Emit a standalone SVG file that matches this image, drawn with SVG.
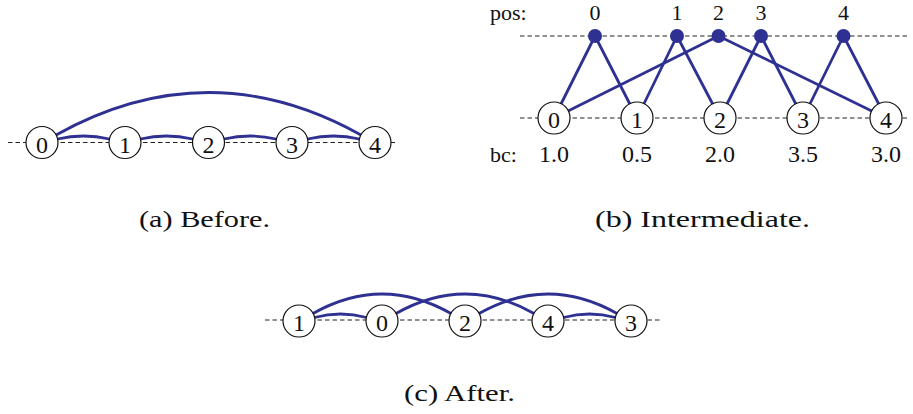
<svg xmlns="http://www.w3.org/2000/svg" width="913" height="414" viewBox="0 0 913 414">
<style>
.dash{stroke:#222;stroke-width:1;stroke-dasharray:4.5 3;fill:none}
.e{stroke:#2e3192;stroke-width:2.8;fill:none;stroke-linecap:round}
.n circle{fill:#fff;stroke:#111;stroke-width:1.2}
.n text,.lbl{font-family:"Liberation Serif","DejaVu Serif",serif;font-size:24px;fill:#111;text-anchor:middle}
.sm{font-family:"Liberation Serif","DejaVu Serif",serif;font-size:22px;fill:#111}
.dot{fill:#2e3192}
.cap{font-family:"Liberation Serif","DejaVu Serif",serif;font-size:24px;fill:#111}
</style>
<!-- dashed axes -->
<g id="axes">
<line class="dash" x1="8" y1="142.5" x2="398" y2="142.5"/>
<line class="dash" x1="520" y1="36" x2="910" y2="36"/>
<line class="dash" x1="520" y1="118" x2="910" y2="118"/>
<line class="dash" x1="265" y1="320" x2="660" y2="320"/>
</g>
<!-- connectors -->
<g id="connectors">
<!-- (a) -->
<path class="e" d="M56,135 Q208.5,50 361,135"/>
<path class="e" d="M57.5,139 Q83.5,133 109.5,139"/>
<path class="e" d="M140.5,139 Q166.5,133 192.5,139"/>
<path class="e" d="M224,139 Q250,133 276,139"/>
<path class="e" d="M307.5,139 Q333.5,133 359.5,139"/>
<!-- (b) -->
<line class="e" x1="595" y1="36" x2="554" y2="118"/>
<line class="e" x1="595" y1="36" x2="637" y2="118"/>
<line class="e" x1="677" y1="36" x2="637" y2="118"/>
<line class="e" x1="677" y1="36" x2="720" y2="118"/>
<line class="e" x1="718.5" y1="36" x2="554" y2="118"/>
<line class="e" x1="718.5" y1="36" x2="886" y2="118"/>
<line class="e" x1="761" y1="36" x2="720" y2="118"/>
<line class="e" x1="761" y1="36" x2="803" y2="118"/>
<line class="e" x1="843.5" y1="36" x2="803" y2="118"/>
<line class="e" x1="843.5" y1="36" x2="886" y2="118"/>
<!-- (c) -->
<path class="e" d="M314.5,317.5 Q340.5,310.5 366.5,317.5"/>
<path class="e" d="M313,313.5 Q382,274.5 451,313.5"/>
<path class="e" d="M396,313.5 Q465,274.5 534,313.5"/>
<path class="e" d="M479,313.5 Q548,274.5 617,313.5"/>
<path class="e" d="M563.5,317.5 Q589.5,310.5 615.5,317.5"/>
</g>
<!-- panel (a) nodes -->
<g id="a0" class="n"><circle cx="42" cy="142.5" r="16"/><text x="42" y="152.5">0</text></g>
<g id="a1" class="n"><circle cx="125" cy="142.5" r="16"/><text x="125" y="152.5">1</text></g>
<g id="a2" class="n"><circle cx="208.5" cy="142.5" r="16"/><text x="208.5" y="152.5">2</text></g>
<g id="a3" class="n"><circle cx="292" cy="142.5" r="16"/><text x="292" y="152.5">3</text></g>
<g id="a4" class="n"><circle cx="375" cy="142.5" r="16"/><text x="375" y="152.5">4</text></g>
<!-- panel (b) -->
<text class="sm" x="490" y="20">pos:</text>
<text class="sm" x="490" y="161.5">bc:</text>
<g id="p0"><circle class="dot" cx="595" cy="36" r="7"/><text class="sm" x="595" y="20" text-anchor="middle">0</text></g>
<g id="p1"><circle class="dot" cx="677" cy="36" r="7"/><text class="sm" x="677" y="20" text-anchor="middle">1</text></g>
<g id="p2"><circle class="dot" cx="718.5" cy="36" r="7"/><text class="sm" x="718.5" y="20" text-anchor="middle">2</text></g>
<g id="p3"><circle class="dot" cx="761" cy="36" r="7"/><text class="sm" x="761" y="20" text-anchor="middle">3</text></g>
<g id="p4"><circle class="dot" cx="843.5" cy="36" r="7"/><text class="sm" x="843.5" y="20" text-anchor="middle">4</text></g>
<g id="b0" class="n"><circle cx="554" cy="118" r="16"/><text x="554" y="128">0</text><text class="sm" x="554" y="161.5" text-anchor="middle">1.0</text></g>
<g id="b1" class="n"><circle cx="637" cy="118" r="16"/><text x="637" y="128">1</text><text class="sm" x="637" y="161.5" text-anchor="middle">0.5</text></g>
<g id="b2" class="n"><circle cx="720" cy="118" r="16"/><text x="720" y="128">2</text><text class="sm" x="720" y="161.5" text-anchor="middle">2.0</text></g>
<g id="b3" class="n"><circle cx="803" cy="118" r="16"/><text x="803" y="128">3</text><text class="sm" x="803" y="161.5" text-anchor="middle">3.5</text></g>
<g id="b4" class="n"><circle cx="886" cy="118" r="16"/><text x="886" y="128">4</text><text class="sm" x="886" y="161.5" text-anchor="middle">3.0</text></g>
<!-- panel (c) nodes -->
<g id="c1" class="n"><circle cx="299" cy="321" r="16"/><text x="299" y="331">1</text></g>
<g id="c0" class="n"><circle cx="382" cy="321" r="16"/><text x="382" y="331">0</text></g>
<g id="c2" class="n"><circle cx="465" cy="321" r="16"/><text x="465" y="331">2</text></g>
<g id="c4" class="n"><circle cx="548" cy="321" r="16"/><text x="548" y="331">4</text></g>
<g id="c3" class="n"><circle cx="631" cy="321" r="16"/><text x="631" y="331">3</text></g>
<!-- captions -->
<text class="cap" x="139" y="227" textLength="131" lengthAdjust="spacingAndGlyphs">(a) Before.</text>
<text class="cap" x="595" y="227" textLength="215" lengthAdjust="spacingAndGlyphs">(b) Intermediate.</text>
<text class="cap" x="404" y="401" textLength="111" lengthAdjust="spacingAndGlyphs">(c) After.</text>
</svg>
